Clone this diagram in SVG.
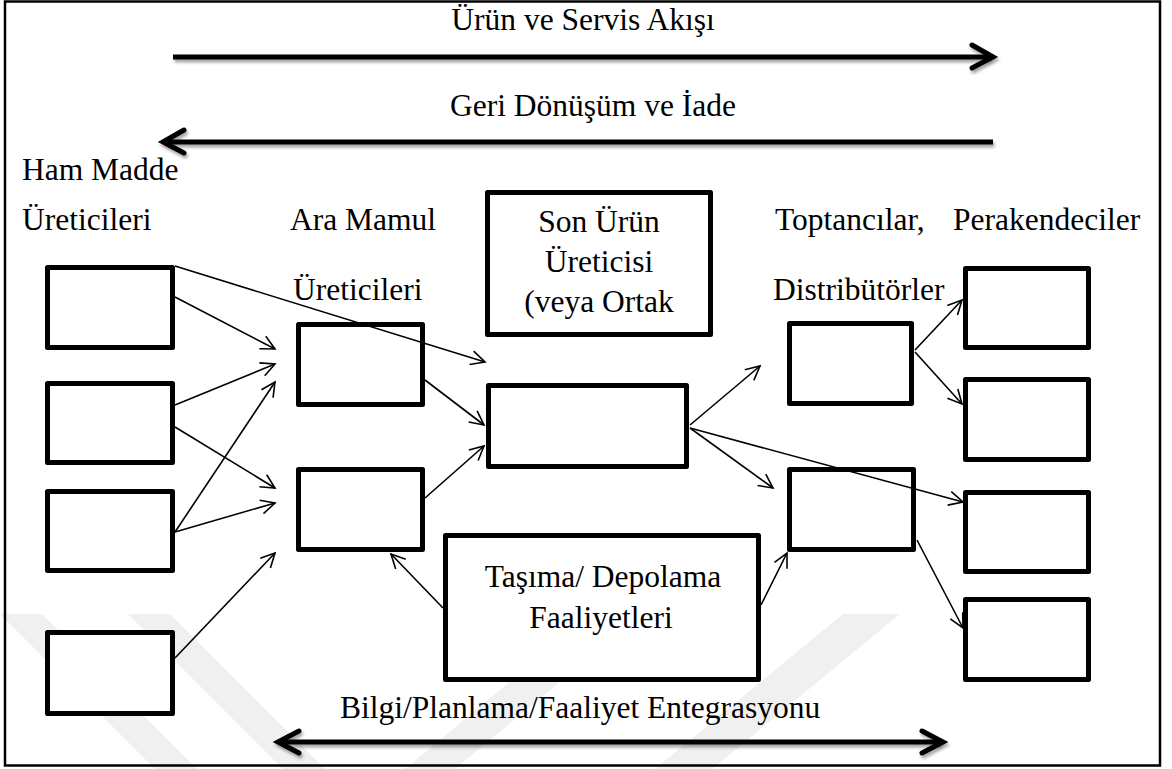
<svg xmlns="http://www.w3.org/2000/svg" width="1172" height="769" viewBox="0 0 1172 769">
  <defs>
    <style>
      .lbl { font-family: "Liberation Serif", "Times New Roman", serif; font-size: 31.5px; fill: #000; }
      .mid { text-anchor: middle; }
      .box { fill: #fff; stroke: #000; stroke-width: 5; stroke-linejoin: round; }
      .link { fill: none; stroke: #000; stroke-width: 1.6; marker-end: url(#head); }
      .flow { fill: none; stroke: #000; stroke-width: 5; filter: url(#shade); }
      .chev { fill: none; stroke: #000; stroke-width: 5; stroke-linecap: round; stroke-linejoin: miter; filter: url(#shade); }
      .mark { fill: #f0f0f0; }
    </style>
    <marker id="head" markerUnits="userSpaceOnUse" markerWidth="20" markerHeight="20" refX="16" refY="8" orient="auto" overflow="visible">
      <path d="M2,1 L16,8 L2,15" fill="none" stroke="#000" stroke-width="1.6"/>
    </marker>
    <filter id="shade" filterUnits="userSpaceOnUse" x="0" y="0" width="1172" height="769">
      <feDropShadow dx="1.5" dy="3" stdDeviation="1.8" flood-color="#000" flood-opacity="0.35"/>
    </filter>
  </defs>

  <rect width="1172" height="769" fill="#fff"/>

  <!-- faint background bands -->
  <g id="backdrop">
    <polygon class="mark" points="0,614 42,614 197,769 155,769"/>
    <polygon class="mark" points="128,614 170,614 325,769 283,769"/>
    <polygon class="mark" points="843,614 900,614 712,769 655,769"/>
    <polygon class="mark" points="560,640 610,640 455,769 405,769"/>
  </g>

  <!-- frame -->
  <rect x="5" y="1.5" width="1155" height="764" fill="none" stroke="#000" stroke-width="2.5"/>

  <!-- flow arrows and titles -->
  <g id="flows">
    <line class="flow" x1="173" y1="57" x2="990" y2="57"/>
    <polyline class="chev" points="972,45 993,57 972,68"/>
    <line class="flow" x1="166" y1="142" x2="993" y2="142"/>
    <polyline class="chev" points="184,130 163,142 184,153"/>
    <line class="flow" x1="281" y1="742" x2="940" y2="742"/>
    <polyline class="chev" points="299,731 278,742 299,753"/>
    <polyline class="chev" points="922,731 943,742 922,753"/>
    <text class="lbl mid" x="583" y="30">Ürün ve Servis Akışı</text>
    <text class="lbl" x="450" y="116">Geri Dönüşüm ve İade</text>
    <text class="lbl" x="340" y="718">Bilgi/Planlama/Faaliyet Entegrasyonu</text>
  </g>

  <!-- column headings -->
  <g id="headings">
    <text class="lbl" x="22" y="180">Ham Madde</text>
    <text class="lbl" x="22" y="230">Üreticileri</text>
    <text class="lbl" x="290" y="230">Ara Mamul</text>
    <text class="lbl" x="293" y="300">Üreticileri</text>
    <text class="lbl" x="775" y="230">Toptancılar,</text>
    <text class="lbl" x="773" y="300">Distribütörler</text>
    <text class="lbl" x="953" y="230">Perakendeciler</text>
  </g>

  <!-- raw material producers -->
  <g id="raw-1"><rect class="box" x="47.5" y="267.5" width="125" height="80"/></g>
  <g id="raw-2"><rect class="box" x="47.5" y="383.5" width="125" height="79"/></g>
  <g id="raw-3"><rect class="box" x="47.5" y="491.5" width="125" height="79"/></g>
  <g id="raw-4"><rect class="box" x="47.5" y="632.5" width="125" height="81"/></g>

  <!-- intermediate producers -->
  <g id="mid-1"><rect class="box" x="298.5" y="324.5" width="124" height="80"/></g>
  <g id="mid-2"><rect class="box" x="298.5" y="469.5" width="124" height="80"/></g>

  <!-- final product manufacturer -->
  <g id="final-label">
    <rect class="box" x="487.5" y="192.5" width="223" height="142"/>
    <text class="lbl mid" x="599" y="232">Son Ürün</text>
    <text class="lbl mid" x="599" y="272">Üreticisi</text>
    <text class="lbl mid" x="599" y="312">(veya Ortak</text>
  </g>
  <g id="final"><rect class="box" x="488.5" y="385.5" width="198" height="81"/></g>

  <!-- wholesalers / distributors -->
  <g id="dist-1"><rect class="box" x="789.5" y="323.5" width="122" height="80"/></g>
  <g id="dist-2"><rect class="box" x="789.5" y="469.5" width="124" height="80"/></g>

  <!-- retailers -->
  <g id="retail-1"><rect class="box" x="965.5" y="268.5" width="123" height="79"/></g>
  <g id="retail-2"><rect class="box" x="965.5" y="379.5" width="123" height="80"/></g>
  <g id="retail-3"><rect class="box" x="965.5" y="492.5" width="123" height="79"/></g>
  <g id="retail-4"><rect class="box" x="965.5" y="599.5" width="123" height="80"/></g>

  <!-- transport / storage -->
  <g id="logistics">
    <rect class="box" x="445.5" y="535.5" width="313" height="144"/>
    <text class="lbl mid" x="603" y="587">Taşıma/ Depolama</text>
    <text class="lbl mid" x="601" y="628">Faaliyetleri</text>
  </g>

  <!-- connectors, drawn over the boxes -->
  <g id="connectors">
    <line class="link" x1="175" y1="266" x2="485" y2="362"/>
    <line class="link" x1="175" y1="297" x2="275" y2="349"/>
    <line class="link" x1="175" y1="405" x2="275" y2="364"/>
    <line class="link" x1="175" y1="427" x2="275" y2="488"/>
    <line class="link" x1="175" y1="532" x2="275" y2="382"/>
    <line class="link" x1="175" y1="532" x2="275" y2="503"/>
    <line class="link" x1="175" y1="658" x2="275" y2="553"/>
    <line class="link" x1="425" y1="380" x2="484" y2="425"/>
    <line class="link" x1="425" y1="498" x2="484" y2="446"/>
    <line class="link" x1="690" y1="425" x2="760" y2="366"/>
    <line class="link" x1="690" y1="428" x2="773" y2="488"/>
    <line class="link" x1="690" y1="428" x2="963" y2="502"/>
    <line class="link" x1="915" y1="350" x2="962" y2="300"/>
    <line class="link" x1="915" y1="352" x2="962" y2="404"/>
    <line class="link" x1="917" y1="540" x2="963" y2="628"/>
    <line class="link" x1="443" y1="608" x2="391" y2="554"/>
    <line class="link" x1="761" y1="605" x2="787" y2="553"/>
  </g>
</svg>
